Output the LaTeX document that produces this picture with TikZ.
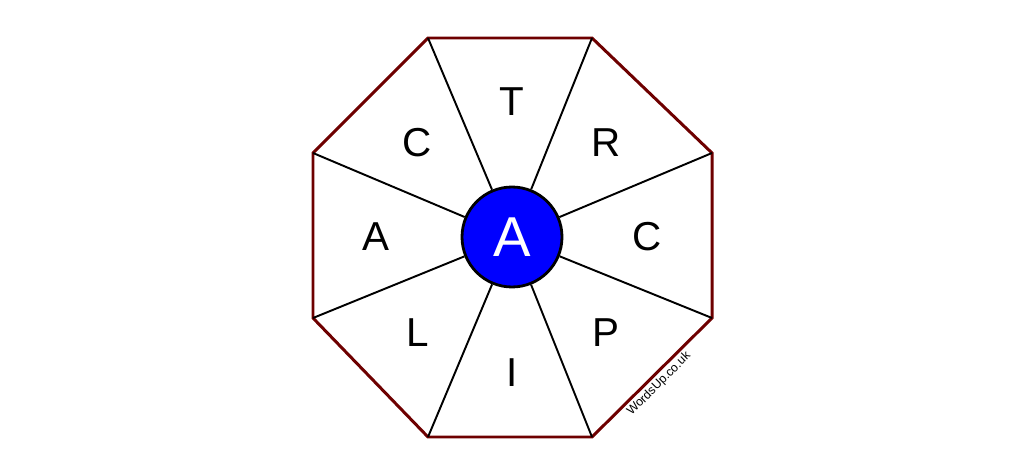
\documentclass[tikz,border=0pt]{standalone}
\usepackage{fontspec}
\setmainfont{Liberation Sans}
\usetikzlibrary{positioning}
\definecolor{rim}{RGB}{110,0,0}
\definecolor{hub}{RGB}{0,0,255}

\begin{document}
\begin{tikzpicture}[x=0.02cm,y=-0.02cm,
  letter/.style={font=\fontsize{23}{26}\selectfont},
  spoke/.style={draw=black,line width=1.1pt}]
\useasboundingbox (0,0) rectangle (1024,476);

\coordinate (v1) at (428,38);
\coordinate (v2) at (592,38);
\coordinate (v3) at (712,153);
\coordinate (v4) at (712,318);
\coordinate (v5) at (592,437);
\coordinate (v6) at (428,437);
\coordinate (v7) at (313,318);
\coordinate (v8) at (313,153);
\draw[rim,line width=1.7pt,line join=miter] (v1) -- (v2) -- (v3) -- (v4) -- (v5) -- (v6) -- (v7) -- (v8) -- cycle;

\node[draw,circle,line width=1.6pt,fill=hub,minimum size=2cm,inner sep=0pt,text=white,font=\fontsize{32}{36}\selectfont](a) at (512,237){A};
\path[spoke] (a) edge (v1);
\path[spoke] (a) edge (v2);
\path[spoke] (a) edge (v3);
\path[spoke] (a) edge (v4);
\path[spoke] (a) edge (v5);
\path[spoke] (a) edge (v6);
\path[spoke] (a) edge (v7);
\path[spoke] (a) edge (v8);

\node[letter](t) at (512,102){T};
\node[letter](r) at (606,143){R};
\node[letter](c1) at (647,237){C};
\node[letter](p) at (606,333){P};
\node[letter](i) at (512,373){I};
\node[letter](l) at (418,333){L};
\node[letter](a2) at (376,237){A};
\node[letter](c2) at (417,143){C};

\node[rotate=45,font=\fontsize{7}{8}\selectfont](w) at (659,384){WordsUp.co.uk};
\end{tikzpicture}
\end{document}
